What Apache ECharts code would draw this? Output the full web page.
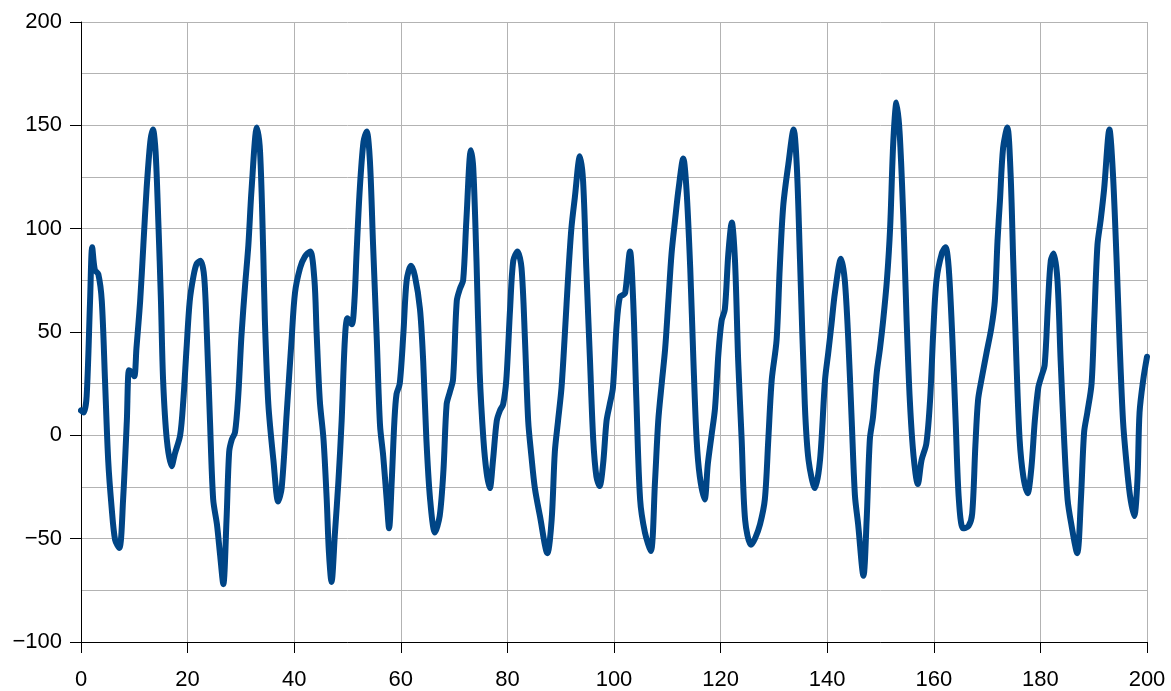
<!DOCTYPE html>
<html>
<head>
<meta charset="utf-8">
<script src="https://cdn.jsdelivr.net/npm/echarts@6/dist/echarts.min.js"></script>
<style>
html,body{margin:0;padding:0;background:#fff;}
#chart{width:1171px;height:691px;}
</style>
</head>
<body>
<div id="chart"></div>
<script>
var xValues = [0,0.5,1.06,1.7,2.1,2.6,3.25,3.9,4.5,5.1,5.75,6.4,7.2,7.9,8.6,9.0,9.5,10.0,10.4,11.1,11.7,12.3,13.0,13.5,14.0,14.5,15.0,15.4,16.1,17.0,17.6,18.6,19.2,19.8,20.4,21.1,21.7,22.4,23.1,23.6,24.2,24.8,25.5,26.1,26.7,27.3,27.8,28.3,28.9,29.5,30.1,30.8,31.4,32.0,33.0,33.6,34.2,34.5,35.15,36.1,37.0,37.65,38.6,39.5,40.15,41.1,42.0,43.0,43.8,44.2,44.8,45.5,46.1,46.5,47.0,47.65,48.3,48.9,49.5,50.0,50.8,51.3,51.7,52.3,53.0,53.6,54.2,54.8,55.5,56.1,56.7,57.35,57.8,58.3,58.8,59.2,59.8,60.5,61.1,61.9,62.65,63.6,64.2,64.8,65.5,66.4,67.3,68.0,68.6,69.2,69.8,70.5,71.1,71.7,72.3,73.15,73.6,74.2,74.8,75.5,76.1,76.7,77.3,78.0,78.6,79.2,79.8,80.5,81.1,81.9,82.65,83.3,83.9,84.5,85.15,86.1,87.5,88.3,88.9,89.5,90.15,90.8,91.4,92.0,92.65,93.6,94.2,94.8,95.5,96.1,96.7,97.3,97.95,98.6,99.2,99.8,100.5,101.1,101.7,102.1,103.0,103.6,104.2,104.9,105.8,106.9,107.7,108.3,108.95,109.6,110.2,110.8,111.45,112.1,113.0,113.6,114.3,114.9,115.5,116.1,117.0,117.6,118.3,118.95,119.6,120.2,120.8,121.45,122.1,122.7,123.3,123.95,124.6,125.7,126.45,127.4,128.3,128.95,129.6,130.5,131.1,131.75,132.7,133.7,134.3,134.9,135.8,136.5,137.7,138.65,139.6,140.2,140.8,141.45,142.6,143.3,143.96,144.6,145.2,145.8,146.8,147.4,148.0,148.6,149.3,149.9,150.5,151.2,151.8,152.4,153.0,153.6,154.3,154.9,155.5,156.2,157.0,157.7,158.6,159.3,159.9,160.5,161.5,162.2,162.8,163.5,164.1,164.7,165.5,166.5,167.2,167.8,168.3,168.95,169.9,170.8,171.45,171.95,172.4,173.0,173.8,174.4,174.9,175.5,176.1,176.8,177.6,178.3,178.95,179.6,180.2,180.8,181.45,181.95,182.5,183.2,183.8,184.45,185.1,185.8,186.9,187.6,188.2,188.8,189.6,190.1,190.7,191.3,191.95,192.95,193.6,194.3,194.9,195.5,196.1,196.8,197.6,198.2,198.6,199.3,200];
var yValues = [12,11,19,65,91,80,78,65,27,-12,-35,-50.6,-54.5,-31,7,31.5,30.5,28.6,42,65,92,119,142,148,137,104,65,27,-2,-15,-9,0,17,42,65,77,83,84.5,77,50,7,-31,-43,-58,-72,-41,-8,-2,1.5,19,48,73,92,119,149,137,88,55.6,15,-12,-32,-25.5,11,46,69,81,86.5,89,75,50,17,-2,-31,-56,-71,-47,-22,7,46,56.6,53.7,65,88,119,142,147,133,92,46,5,-10,-31,-45,-22,7,20,25,50,75,82,77,61,36,-2,-31,-47,-39,-17,15,21,27,65,71,75,104,138,129,84.5,30.5,-2,-18,-25.5,-12,7,12,15,27,61,84.5,89,81,46,7,-10,-25.5,-39,-57,-41,-8,7,23,50,77,100,115,135,123,81,36,-2,-20,-24.5,-14,7,15,23,53.7,67,68,69,89,65,17,-31,-47,-56,-22,7,25,42,65,88,104,119,134,119,81,36,-2,-20,-31,-14,0,13,40,55.6,61,88,103,84.5,36,-2,-41,-53,-50,-43,-31,-2,27,46,81,111,131,148,130,84.5,15,-12,-25.5,-12,27,40,53.7,69,85.5,75,46,7,-29,-43,-68,-41,-2,9,30.5,42,55.6,75,100,142,161,146,104,55.6,17,-10,-23.6,-12,-4,17,50,75,88,91,81,46,7,-31,-45,-44,-38,-5,17,27,40,52,65,94,113,139,149,127,84.5,36,-2,-20,-28,-16,7,23,28.6,34,65,84.5,88,75,36,-2,-31,-43,-57,-31,1.5,11,25,55.6,92,104,119,148,127,84.5,42,7,-12,-29,-39,-22,11,27,38];
var xTicks = {min: 0, max: 200, step: 20};
var yTicks = {min: -100, max: 200, step: 50};

var points = xValues.map(function (x, i) { return [x, yValues[i]]; });
function fmt(v) { return String(v).replace('-', '\u2212'); }

var chart = echarts.init(document.getElementById('chart'), null, {renderer: 'canvas'});
var labelStyle = {color: '#000', fontSize: 22, fontFamily: 'Liberation Sans, Arial, sans-serif', formatter: fmt};
chart.setOption({
  animation: false,
  backgroundColor: '#fff',
  grid: {left: 81, right: 24, top: 22, bottom: 47, containLabel: false},
  xAxis: {
    type: 'value', min: xTicks.min, max: xTicks.max, interval: xTicks.step,
    axisLine: {show: true, onZero: false, lineStyle: {color: '#000', width: 1}},
    axisTick: {show: true, length: 11, lineStyle: {color: '#000'}},
    axisLabel: Object.assign({margin: 27}, labelStyle),
    splitLine: {show: true, lineStyle: {color: '#b3b3b3', width: 1}}
  },
  yAxis: {
    type: 'value', min: yTicks.min, max: yTicks.max, interval: yTicks.step,
    axisLine: {show: true, onZero: false, lineStyle: {color: '#000', width: 1}},
    axisTick: {show: true, length: 11, lineStyle: {color: '#000'}},
    axisLabel: Object.assign({margin: 19}, labelStyle),
    splitLine: {show: true, lineStyle: {color: '#b3b3b3', width: 1}},
    minorTick: {show: false, splitNumber: 2},
    minorSplitLine: {show: true, lineStyle: {color: '#b3b3b3', width: 1}}
  },
  series: [{
    type: 'line',
    data: points,
    showSymbol: false,
    smooth: 0.3,
    lineStyle: {color: '#004586', width: 6, cap: 'round', join: 'round'},
    itemStyle: {color: '#004586'}
  }]
});
</script>
</body>
</html>
